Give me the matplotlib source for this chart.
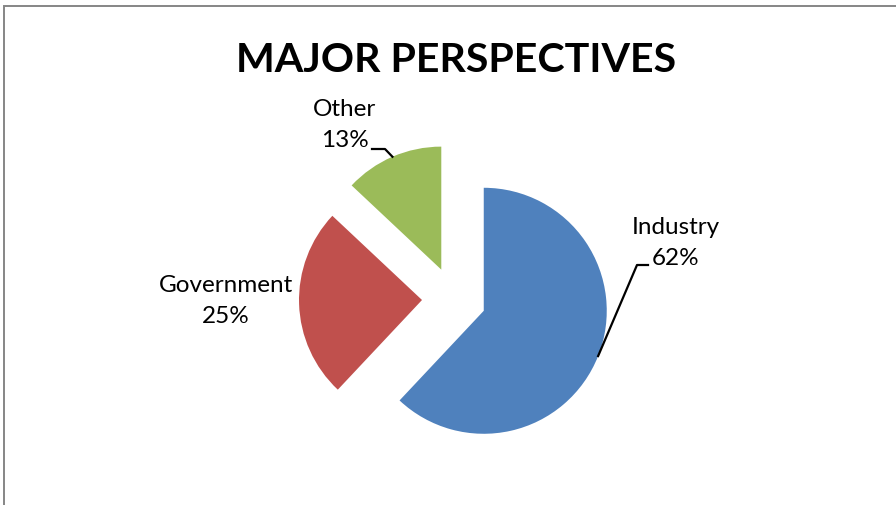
import matplotlib.pyplot as plt
import matplotlib.patches as mpatches
import numpy as np

categories = ["Industry", "Government", "Other"]
shares = [62, 25, 13]
colors = ["#4F81BD", "#C0504D", "#9BBB59"]

plt.rcParams['font.family'] = ['Lato', 'DejaVu Sans']

W, H = 896, 506
fig = plt.figure(figsize=(W / 100, H / 100), dpi=100)
ax = fig.add_axes([0, 0, 1, 1])

wedges, _ = ax.pie(shares, colors=colors, startangle=90, counterclock=False,
                   explode=[32] * 3, radius=123, center=(454, H - 300),
                   frame=True, wedgeprops={"linewidth": 0})
ax.set_xlim(0, W)
ax.set_ylim(0, H)
ax.set_aspect("auto")
ax.axis("off")

# chart border (right and bottom edges are outside the picture)
ax.add_patch(mpatches.Rectangle((4, -20), W + 40, H - 7 + 20, fill=False,
                                edgecolor="#868686", lw=1.4, clip_on=False))

ax.text(456, H - 60, "MAJOR PERSPECTIVES", ha="center", va="center",
        fontsize=29.6, fontweight="bold")

# label centres and leader elbows (image y measured from the top)
label_pos = {"Industry": (676, 243), "Government": (226, 301), "Other": (345, 125)}
elbows = {"Industry": [(637, 266), (648, 266)], "Other": [(385, 150), (372, 150)]}

for w, name, s in zip(wedges, categories, shares):
    lx, ly = label_pos[name]
    ax.text(lx, H - ly, f"{name}\n{s}%", ha="center", va="center",
            fontsize=17.5, linespacing=1.6)
    if name in elbows:
        mid = np.deg2rad((w.theta1 + w.theta2) / 2)
        px = w.center[0] + w.r * np.cos(mid)
        py = w.center[1] + w.r * np.sin(mid)
        xs = [px] + [p[0] for p in elbows[name]]
        ys = [py] + [H - p[1] for p in elbows[name]]
        ax.plot(xs, ys, color="black", lw=1.6)

fig.savefig("out.png", dpi=100)
